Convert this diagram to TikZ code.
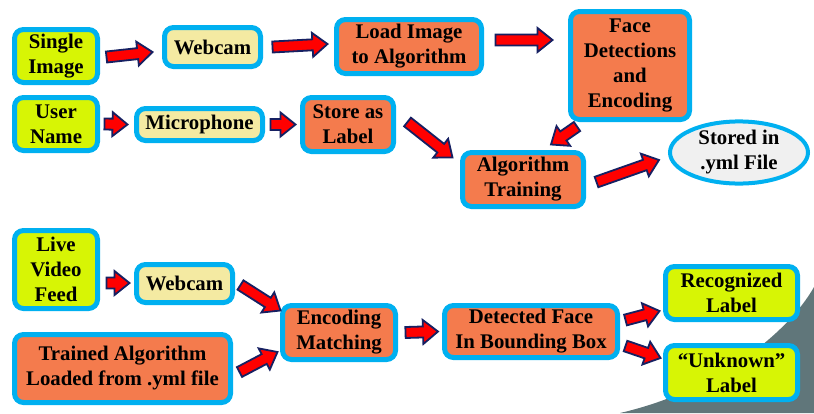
\documentclass[tikz,border=0pt]{standalone}
\usepackage{fontspec}
\setmainfont{Liberation Serif}
\usetikzlibrary{calc, shapes.geometric}

\definecolor{cyanb}{RGB}{0,176,240}
\definecolor{limeg}{RGB}{215,245,5}
\definecolor{paley}{RGB}{244,234,162}
\definecolor{orng}{RGB}{244,123,77}
\definecolor{navyb}{RGB}{22,32,98}
\definecolor{lgray}{RGB}{240,240,240}
\definecolor{slateg}{RGB}{96,118,122}

% block arrow from tail #1 to tip #2
\newcommand{\blkarrow}[2]{%
  \draw[blockarr] let \p1=(#1), \p2=(#2),
    \n1={atan2(\y2-\y1,\x2-\x1)}, \n2={veclen(\x2-\x1,\y2-\y1)-15}, \n3={\n1+90} in
    ($(\p1)+(\n3:5.5pt)$) -- ($(\p1)+(\n1:\n2)+(\n3:5.5pt)$) -- ($(\p1)+(\n1:\n2)+(\n3:12pt)$)
    -- (\p2) -- ($(\p1)+(\n1:\n2)+(\n3:-12pt)$) -- ($(\p1)+(\n1:\n2)+(\n3:-5.5pt)$)
    -- ($(\p1)+(\n3:-5.5pt)$) -- cycle;}

\begin{document}
\begin{tikzpicture}[
  x=1pt, y=-1pt,
  font=\bfseries\fontsize{20.8}{25}\selectfont,
  box/.style={draw=cyanb, line width=5pt, rounded corners=9pt, inner sep=1pt, align=center},
  srcbox/.style={box, fill=limeg},
  devbox/.style={box, fill=paley},
  procbox/.style={box, fill=orng},
  outbox/.style={box, fill=limeg},
  filebox/.style={ellipse, draw=cyanb, line width=4pt, fill=lgray, inner sep=0pt, align=center},
  blockarr/.style={draw=navyb, fill=red, line width=1.8pt, line join=miter}
]
\useasboundingbox (0,0) rectangle (814,413);
\fill[slateg] (620,413) .. controls (720,390) and (790,330) .. (814,287) -- (814,413) -- cycle;

% Row 1: image enrolment
\node[srcbox,  minimum width=83pt,  minimum height=53pt]  (si)  at (56,56)       {Single\\Image};
\node[devbox,  minimum width=96pt,  minimum height=39pt]  (wc1) at (212.5,47)    {Webcam};
\node[procbox, minimum width=145pt, minimum height=54pt]  (ld)  at (409,46.5)    {Load Image\\to Algorithm};
\node[procbox, minimum width=119pt, minimum height=108pt] (fd)  at (630,65.5)    {Face\\Detections\\and\\Encoding};

% Row 2: name as label
\node[srcbox,  minimum width=83pt,  minimum height=53pt]  (un)  at (56,124)      {User\\Name};
\node[devbox,  minimum width=126pt, minimum height=32pt]  (mic) at (199.5,124.5) {Microphone};
\node[procbox, minimum width=91pt,  minimum height=54pt]  (sl)  at (348,124.5)   {Store as\\Label};
\node[procbox, minimum width=121pt, minimum height=54pt]  (at)  at (523,179.5)   {Algorithm\\Training};
\node[filebox, minimum width=138pt, minimum height=61pt]  (st)  at (739,152.5)   {Stored in\\.yml File};

\blkarrow{$(si.east)+(6.5,1)$}{$(wc1.west)+(-9.5,5)$}
\blkarrow{$(wc1.east)+(9.5,0)$}{$(ld.west)+(-6.5,-2.5)$}
\blkarrow{$(ld.east)+(11.5,-6.5)$}{$(fd.west)+(-15.5,-25.5)$}
\blkarrow{$(un.east)+(4.5,0)$}{$(mic.west)+(-6.5,0)$}
\blkarrow{$(mic.east)+(5.5,0)$}{$(sl.west)+(-4.5,0)$}
\blkarrow{$(sl.east)+(11.5,-2.5)$}{$(at.north west)+(-7.5,7.5)$}
\blkarrow{$(fd.south)+(-53,4.5)$}{$(at.north)+(28,-5.5)$}
\blkarrow{$(at.east)+(10.5,2.5)$}{$(st.west)+(-9,7.5)$}

% Row 3: live recognition
\node[srcbox,  minimum width=83pt,  minimum height=78pt]  (lv)  at (56,269.5)    {Live\\Video\\Feed};
\node[devbox,  minimum width=96pt,  minimum height=38pt]  (wc2) at (184.5,283.5) {Webcam};
\node[procbox, minimum width=216pt, minimum height=68pt]  (ta)  at (122.5,368.5) {Trained Algorithm\\Loaded from .yml file};
\node[procbox, minimum width=113pt, minimum height=54pt]  (em)  at (339,332.5)   {Encoding\\Matching};
\node[procbox, minimum width=173pt, minimum height=52pt]  (df)  at (531,331.5)   {Detected Face\\In Bounding Box};
\node[outbox,  minimum width=132pt, minimum height=53pt]  (rl)  at (731.5,293)   {Recognized\\Label};
\node[outbox,  minimum width=132pt, minimum height=54pt]  (ul)  at (731.5,372.5) {“Unknown”\\Label};

\blkarrow{$(lv.east)+(6.5,13.5)$}{$(wc2.west)+(-4.5,-0.5)$}
\blkarrow{$(wc2.east)+(5.5,1.5)$}{$(em.north west)+(0.5,7.5)$}
\blkarrow{$(ta.east)+(6.5,3.5)$}{$(em.west)+(-2.5,19.5)$}
\blkarrow{$(em.east)+(7.5,0)$}{$(df.west)+(-4,0)$}
\blkarrow{$(df.east)+(5.5,-11.5)$}{$(rl.west)+(-3.5,18)$}
\blkarrow{$(df.east)+(5.5,14.5)$}{$(ul.west)+(-2.5,-14.5)$}
\end{tikzpicture}
\end{document}
